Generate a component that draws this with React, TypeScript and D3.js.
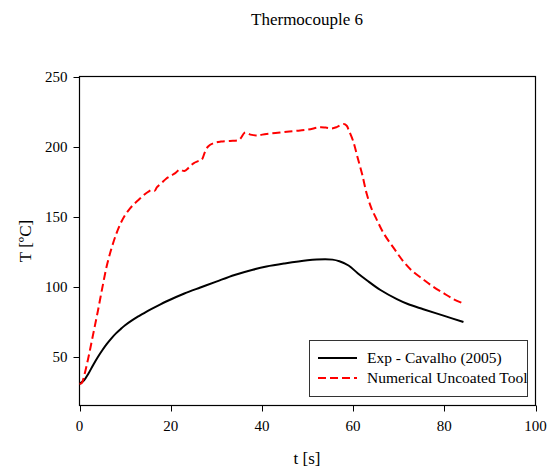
import React from "react";
import * as d3 from "d3";

const title = "Thermocouple 6";
const xLabel = "t [s]";
const yLabel = "T [ºC]";
const xTicks = [0, 20, 40, 60, 80, 100];
const yTicks = [50, 100, 150, 200, 250];
const seriesNames = ["Exp - Cavalho (2005)", "Numerical Uncoated Tool"];

const expT = [0, 1, 2, 3, 4, 5, 6, 7, 8, 9, 10, 11.5, 13, 15, 17, 19.5, 23, 26.5, 30, 34, 38, 41, 45, 50, 52, 55.5, 57, 59, 61, 63, 66, 69.6, 72, 75.4, 80, 84.2];
const expV = [30.5, 33, 38, 44, 49.5, 54.5, 59, 63, 66.5, 69.5, 72.3, 75.8, 78.8, 82.6, 86, 90, 95, 99.3, 103.5, 108.2, 112, 114.3, 116.5, 118.8, 119.3, 119.2, 118, 115, 109.5, 104.5, 97.5, 91, 87.5, 83.8, 79, 74.6];

const numT = [0, 0.5, 1, 2, 3, 4, 5, 6, 7, 8, 9, 10, 11, 12, 13, 14, 15, 15.9, 16.5, 17, 18, 19, 20, 21, 22, 23, 24, 25, 26, 26.8, 27.5, 28.2, 29.4, 31, 33, 35, 36.3, 37.5, 38.9, 41, 44, 47, 50, 52.8, 54, 55.3, 56.5, 57.9, 58.6, 59, 60, 61, 62, 63, 64, 65, 66.7, 69, 71, 73, 75.4, 77.5, 79.8, 82, 84.2];
const numV = [30.5, 31, 36, 50, 66, 82, 99, 115, 127, 137, 145, 151, 155.5, 159, 162, 165, 167.5, 169, 168.5, 171, 174, 177, 179, 181, 183.5, 182.5, 185, 188, 189.5, 190.5, 196, 200, 202.4, 203.5, 204, 204.8, 210, 208.5, 207.9, 209, 210, 211, 212, 213.8, 213.5, 212.9, 214, 216, 214.8, 212, 204, 192, 180, 166, 156, 149, 138, 127, 118, 111, 105, 100, 95.3, 91, 87.8];

const font = "'Liberation Serif', 'Times New Roman', serif";

export default function App() {
  const left = 79.5, right = 535.5, top = 76.5, bottom = 405.5;
  const x = d3.scaleLinear().domain([0, 100]).range([left, right]);
  const y = d3.scaleLinear().domain([15, 250]).range([bottom, top]);
  const line = d3
    .line<[number, number]>()
    .x((d) => x(d[0]))
    .y((d) => y(d[1]))
    .curve(d3.curveCatmullRom.alpha(0.5));
  const expPath = line(expT.map((t, i) => [t, expV[i]]) as [number, number][]) || "";
  const numPath = line(numT.map((t, i) => [t, numV[i]]) as [number, number][]) || "";
  const ts = { fontFamily: font, fontSize: 15, fill: "#000" } as React.CSSProperties;
  const tl = { fontFamily: font, fontSize: 15.5, fill: "#000" } as React.CSSProperties;
  const tt = { fontFamily: font, fontSize: 17, fill: "#000" } as React.CSSProperties;

  return (
    <svg
      width={552}
      height={470}
      style={{ position: "absolute", left: 0, top: 0, background: "#fff", fontFamily: font }}
    >
      <rect x={0} y={0} width={552} height={470} fill="#fff" />
      <text x={307} y={25} textAnchor="middle" style={tt}>
        {title}
      </text>
      <rect x={left} y={top} width={right - left} height={bottom - top} fill="none" stroke="#000" strokeWidth={1.2} />
      {yTicks.map((v) => (
        <g key={"y" + v}>
          <line x1={left - 6} x2={left} y1={Math.round(y(v)) + 0.5} y2={Math.round(y(v)) + 0.5} stroke="#000" />
          <text x={left - 12} y={y(v) + 5} textAnchor="end" style={ts}>
            {v}
          </text>
        </g>
      ))}
      {xTicks.map((v) => (
        <g key={"x" + v}>
          <line x1={Math.round(x(v)) + 0.5} x2={Math.round(x(v)) + 0.5} y1={bottom} y2={bottom + 6} stroke="#000" />
          <text x={x(v)} y={431} textAnchor="middle" style={ts}>
            {v}
          </text>
        </g>
      ))}
      <text x={307} y={464} textAnchor="middle" style={tt}>
        {xLabel}
      </text>
      <text transform={`translate(31,241) rotate(-90)`} textAnchor="middle" style={tt}>
        {yLabel}
      </text>
      <path d={expPath} fill="none" stroke="#000" strokeWidth={2} />
      <path d={numPath} fill="none" stroke="#ff0000" strokeWidth={2} strokeDasharray="8,4" />
      <rect x={309.5} y={340.5} width={218} height={56} fill="#fff" stroke="#333" strokeWidth={1} />
      <line x1={318} x2={357} y1={358} y2={358} stroke="#000" strokeWidth={2} />
      <line x1={318} x2={357} y1={378} y2={378} stroke="#ff0000" strokeWidth={2} strokeDasharray="8,4" />
      <text x={367} y={363} style={tl}>
        {seriesNames[0]}
      </text>
      <text x={367} y={383} style={tl}>
        {seriesNames[1]}
      </text>
    </svg>
  );
}
